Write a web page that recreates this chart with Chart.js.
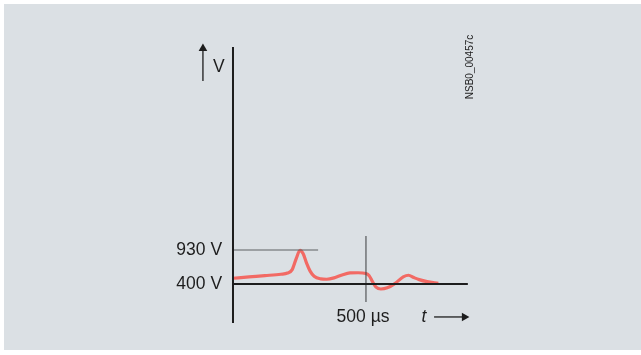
<!DOCTYPE html>
<html>
<head>
<meta charset="utf-8">
<script src="https://cdn.jsdelivr.net/npm/chart.js@4/dist/chart.umd.min.js"></script>
<style>
  html, body { margin: 0; padding: 0; background: #ffffff; }
  #wrap { position: absolute; left: 0; top: 0; width: 641px; height: 355px; }
  #panel { position: absolute; left: 4px; top: 4px; width: 637px; height: 346px; background: #dbe0e4; }
  canvas { position: absolute; left: 0; top: 0; }
</style>
</head>
<body>
<div id="wrap">
  <div id="panel"></div>
  <canvas id="surge" width="641" height="355"></canvas>
</div>
<script>
// Transient voltage trace (time in µs, voltage in V)
const traceTime = [0, 60, 120, 180, 205, 222, 238, 252, 264, 277, 290, 305, 330, 352, 380, 410, 440, 470, 500, 512, 524, 538, 556, 580, 610, 640, 660, 680, 700, 730, 772];
const traceVolts = [489, 510, 530, 552, 570, 620, 800, 925, 870, 720, 600, 520, 480, 474, 495, 540, 572, 575, 562, 530, 440, 350, 322, 340, 410, 510, 536, 500, 468, 436, 411];

// Marked levels and times
const levelLabels = ["930 V", "400 V"];
const levelValues = [930, 400];
const markTime = 500;
const markLabel = "500 µs";
const axisLabelY = "V";
const axisLabelX = "t";
const figureCode = "NSB0_00457c";

// Axis extents in data units
const tMin = -876, tMax = 1534;
const vMin = -707, vMax = 4827;
const axisTimeEnd = 883;
const axisVoltTop = 4095, axisVoltBottom = -208;

const ink = '#1d1d1d';
const traceColor = '#f26a64';

const lineSet = (pts, color, width) => ({
    data: pts,
    borderColor: color,
    borderWidth: width,
    pointRadius: 0,
    tension: 0,
    fill: false
});

const datasets = [
    // y axis
    lineSet([{x: 0, y: axisVoltBottom}, {x: 0, y: axisVoltTop}], ink, 2),
    // 400 V baseline (x axis)
    lineSet([{x: 0, y: levelValues[1]}, {x: axisTimeEnd, y: levelValues[1]}], ink, 2),
    // 930 V reference
    lineSet([{x: 0, y: levelValues[0]}, {x: 320, y: levelValues[0]}], '#5f6163', 1.2),
    // 500 µs marker
    lineSet([{x: markTime, y: 119}, {x: markTime, y: 1148}], '#3a3c3e', 1),
    // V arrow
    {
        data: [{x: -113, y: 3565}, {x: -113, y: 4070}],
        borderColor: ink, borderWidth: 1.3, tension: 0,
        pointRadius: [0, 5], pointStyle: 'triangle', rotation: 0,
        pointBackgroundColor: ink, pointBorderColor: ink, pointBorderWidth: 0
    },
    // t arrow
    {
        data: [{x: 756, y: -114}, {x: 870, y: -114}],
        borderColor: ink, borderWidth: 1.3, tension: 0,
        pointRadius: [0, 5], pointStyle: 'triangle', rotation: 90,
        pointBackgroundColor: ink, pointBorderColor: ink, pointBorderWidth: 0
    },
    // trace
    {
        data: traceTime.map((t, i) => ({x: t, y: traceVolts[i]})),
        borderColor: traceColor,
        borderWidth: 3.2,
        pointRadius: 0,
        cubicInterpolationMode: 'monotone',
        fill: false
    }
];

// text labels placed through the scales
const labelsPlugin = {
    id: 'labels',
    afterDatasetsDraw(chart) {
        const {ctx, scales: {x, y}} = chart;
        ctx.save();
        ctx.fillStyle = ink;
        ctx.textBaseline = 'middle';
        ctx.font = '17.5px "Liberation Sans", Arial, sans-serif';
        ctx.textAlign = 'right';
        levelLabels.forEach((lab, i) => {
            ctx.fillText(lab, x.getPixelForValue(-41), y.getPixelForValue(levelValues[i]));
        });
        ctx.textAlign = 'center';
        ctx.fillText(markLabel, x.getPixelForValue(489), y.getPixelForValue(-114));
        ctx.textAlign = 'left';
        ctx.fillText(axisLabelY, x.getPixelForValue(-75), y.getPixelForValue(3780));
        ctx.font = 'italic 17.5px "Liberation Sans", Arial, sans-serif';
        ctx.textAlign = 'center';
        ctx.fillText(axisLabelX, x.getPixelForValue(718), y.getPixelForValue(-114));
        // rotated figure code
        ctx.translate(x.getPixelForValue(891), y.getPixelForValue(3783));
        ctx.rotate(-Math.PI / 2);
        ctx.font = '10px "Liberation Sans", Arial, sans-serif';
        ctx.fillText(figureCode, 0, 0);
        ctx.restore();
    }
};

new Chart(document.getElementById('surge'), {
    type: 'line',
    data: { datasets },
    options: {
        responsive: false,
        animation: false,
        layout: { padding: 0, autoPadding: false },
        scales: {
            x: { type: 'linear', min: tMin, max: tMax, display: false },
            y: { type: 'linear', min: vMin, max: vMax, display: false }
        },
        plugins: { legend: { display: false }, tooltip: { enabled: false } }
    },
    plugins: [labelsPlugin]
});
</script>
</body>
</html>
